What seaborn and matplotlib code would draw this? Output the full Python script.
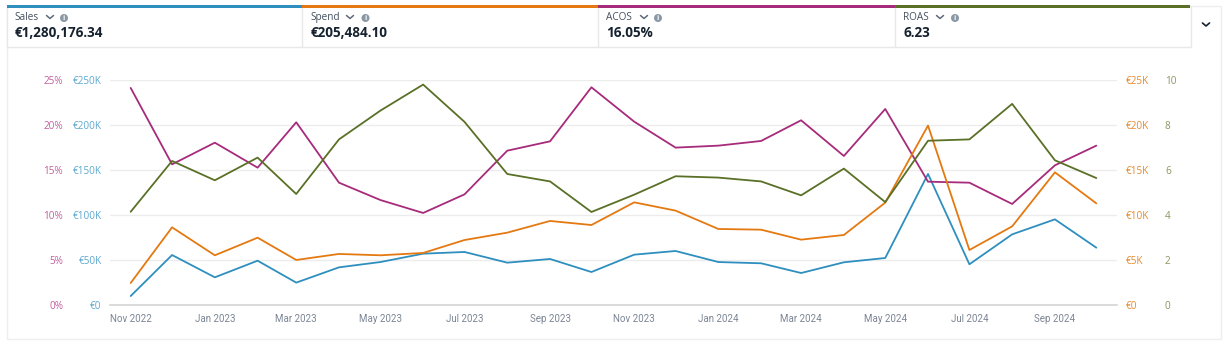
import pandas as pd
import matplotlib
matplotlib.use("Agg")
import matplotlib.pyplot as plt
import matplotlib.dates as mdates
from matplotlib.patches import Rectangle, Circle
from matplotlib.ticker import FuncFormatter
import seaborn as sns

months = pd.date_range("2022-11-01", "2024-10-01", freq="MS")

# values
sales = [10.0, 55.6, 30.8, 49.3, 24.9, 41.9, 47.8, 57.1, 59.0, 47.1, 51.2, 36.7,
         56.0, 60.1, 47.8, 46.4, 35.6, 47.5, 52.3, 145.8, 45.3, 78.6, 95.3, 63.8]
spend = [2.45, 8.64, 5.53, 7.49, 5.01, 5.68, 5.53, 5.79, 7.23, 8.05, 9.35, 8.90,
         11.42, 10.50, 8.46, 8.38, 7.27, 7.79, 11.39, 19.96, 6.12, 8.75, 14.76, 11.31]
acos = [24.15, 15.65, 18.06, 15.28, 20.33, 13.61, 11.68, 10.24, 12.31, 17.17, 18.21, 24.22,
        20.40, 17.51, 17.73, 18.25, 20.55, 16.58, 21.81, 13.72, 13.61, 11.24, 15.54, 17.73]
roas = [4.15, 6.41, 5.55, 6.56, 4.94, 7.37, 8.65, 9.81, 8.15, 5.83, 5.50, 4.14,
        4.91, 5.73, 5.67, 5.50, 4.88, 6.07, 4.58, 7.31, 7.37, 8.95, 6.44, 5.65]

kpi_names = ["Sales", "Spend", "ACOS", "ROAS"]
kpi_values = ["€1,280,176.34", "€205,484.10", "16.05%", "6.23"]

BLUE = "#2e8fbf"
ORANGE = "#e47911"
PURPLE = "#a62b7b"
GREEN = "#5a7026"
W, H = 1224, 352

sns.set_theme(style="white")
plt.rcParams["font.family"] = ["Open Sans", "DejaVu Sans"]

df = pd.DataFrame({"month": months, "sales": sales, "spend": spend, "acos": acos, "roas": roas})

fig = plt.figure(figsize=(W / 100, H / 100), dpi=100)
ax = fig.add_axes([110 / W, 1 - 305 / H, 1007 / W, 224.7 / H])
ax_acos = ax.twinx()
ax_spend = ax.twinx()
ax_roas = ax.twinx()

# one line per axis, each with its own scale
sns.lineplot(data=df, x="month", y="sales", ax=ax, color=BLUE, lw=1.3)
sns.lineplot(data=df, x="month", y="spend", ax=ax_spend, color=ORANGE, lw=1.3)
sns.lineplot(data=df, x="month", y="acos", ax=ax_acos, color=PURPLE, lw=1.3)
sns.lineplot(data=df, x="month", y="roas", ax=ax_roas, color=GREEN, lw=1.3)

ax.set_xlim(pd.Timestamp("2022-10-17"), pd.Timestamp("2024-10-16"))
ax.set_ylim(0, 250)
ax_acos.set_ylim(0, 25)
ax_spend.set_ylim(0, 25)
ax_roas.set_ylim(0, 10)

ax.set_yticks([0, 50, 100, 150, 200, 250])
ax_acos.set_yticks([0, 5, 10, 15, 20, 25])
ax_spend.set_yticks([0, 5, 10, 15, 20, 25])
ax_roas.set_yticks([0, 2, 4, 6, 8, 10])

ax.yaxis.set_major_formatter(FuncFormatter(lambda v, p: "€0" if v == 0 else f"€{v:.0f}K"))
ax_spend.yaxis.set_major_formatter(FuncFormatter(lambda v, p: "€0" if v == 0 else f"€{v:.0f}K"))
ax_acos.yaxis.set_major_formatter(FuncFormatter(lambda v, p: f"{v:.0f}%"))

ax_acos.yaxis.tick_left()
ax.tick_params(axis="y", length=0, pad=6, labelsize=7.2, labelcolor="#5ea9cf")
ax_acos.tick_params(axis="y", length=0, pad=33.8, labelsize=7.2, labelcolor="#c0609f")
ax_spend.tick_params(axis="y", length=0, pad=6.5, labelsize=7.2, labelcolor="#e68a2e")
ax_roas.tick_params(axis="y", length=0, pad=34.5, labelsize=7.2, labelcolor="#87975f")

ax.xaxis.set_major_locator(mdates.MonthLocator(bymonth=range(1, 13, 2)))
ax.xaxis.set_major_formatter(mdates.DateFormatter("%b %Y"))
ax.tick_params(axis="x", length=0, pad=6.8, labelsize=7.0, labelcolor="#7b8594")
# Open Sans has a descending J that shifts the Jan/Jul labels down, Roboto does not
plt.setp(ax.get_xticklabels(), family="Roboto")

ax.set_axisbelow(True)
for a in [ax_acos, ax_spend, ax_roas]:
    a.grid(False)
ax.grid(axis="y", color="#ececec", lw=1.0)
ax.grid(axis="x", visible=False)
for a in [ax, ax_acos, ax_spend, ax_roas]:
    a.set_xlabel("")
    a.set_ylabel("")
    for s in a.spines.values():
        s.set_visible(False)
ax.spines["bottom"].set_visible(True)
ax.spines["bottom"].set_color("#d5d5d5")
ax.spines["bottom"].set_linewidth(1.2)

# header tiles and card border, in pixel coordinates
top = fig.add_axes([0, 0, 1, 1], zorder=-1)
top.set_xlim(0, W)
top.set_ylim(H, 0)
top.axis("off")
top.add_patch(Rectangle((6.5, 5.5), 1214.5, 333.5, fc="white", ec="#eeeeee", lw=1))
top.add_patch(Rectangle((6.5, 5.5), 1184.5, 41, fc="white", ec="#e8e8e8", lw=1))

over = fig.add_axes([0, 0, 1, 1], zorder=5)
over.set_xlim(0, W)
over.set_ylim(H, 0)
over.axis("off")

edges = [6.5, 302, 598, 895, 1190]
bar_colors = [BLUE, ORANGE, PURPLE, GREEN]
text_x = [14.5, 310.5, 606.5, 903.5]
chev_x = [50, 350, 644, 940]
info_x = [64, 365.5, 658, 955]


def chevron(x, y, w=3.5, h=3, lw=1.1, color="#5f6b7a"):
    over.plot([x - w, x, x + w], [y - h / 2, y + h / 2, y - h / 2], color=color, lw=lw)


for i in range(4):
    over.add_patch(Rectangle((edges[i], 5), edges[i + 1] - edges[i], 3, fc=bar_colors[i], ec="none"))
    if i > 0:
        over.plot([edges[i], edges[i]], [8, 46], color="#e8e8e8", lw=1)
    over.text(text_x[i], 17.3, kpi_names[i], fontsize=7.2, color="#44505e", va="center", ha="left")
    over.text(text_x[i], 33.3, kpi_values[i], fontsize=9.75, fontweight="bold", color="#16222f", va="center", ha="left")
    chevron(chev_x[i], 17)
    over.add_patch(Circle((info_x[i], 18), 4, fc="#8a97a5", ec="none"))
    over.text(info_x[i], 18, "i", fontsize=5, fontweight="bold", color="white", va="center", ha="center")

chevron(1206, 24.5, w=3.5, h=3, lw=1.2, color="#16222f")

fig.savefig("out.png", dpi=100, facecolor="white")
